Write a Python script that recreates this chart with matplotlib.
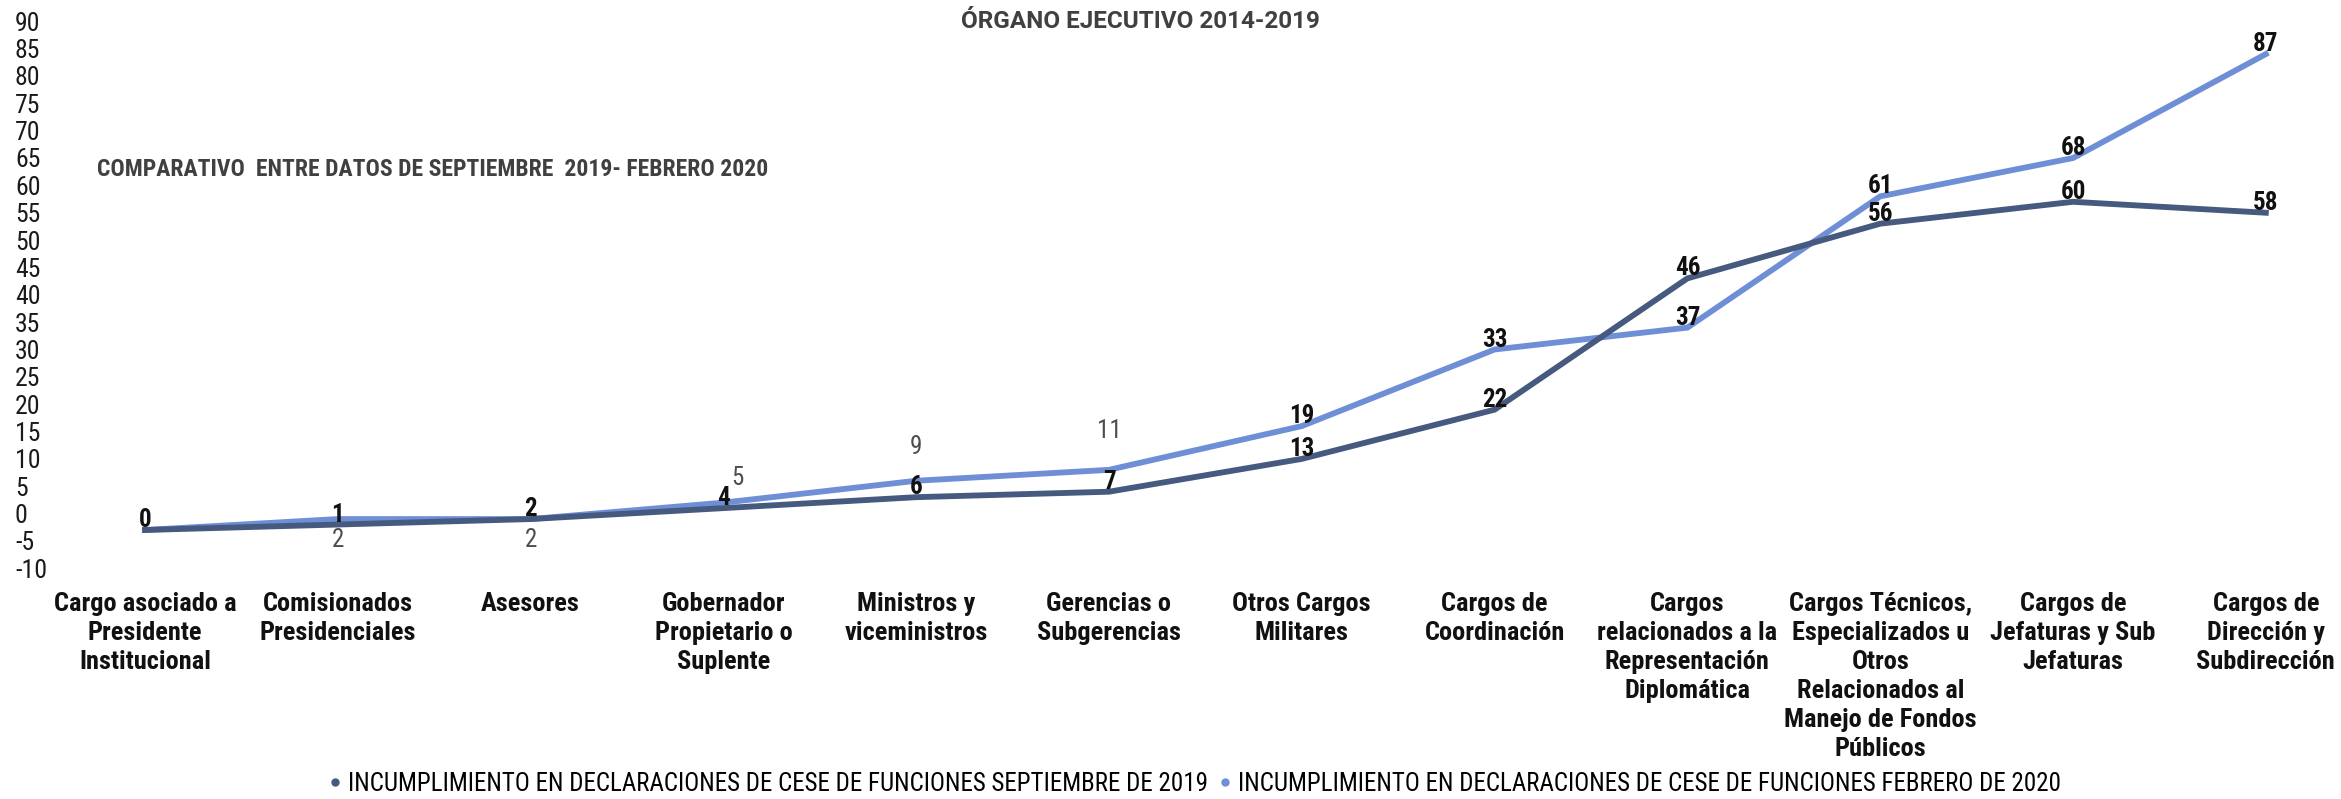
import matplotlib
matplotlib.use("Agg")
import matplotlib.pyplot as plt
import matplotlib.font_manager as fm
from matplotlib.lines import Line2D

categories = [
    "Cargo asociado a\nPresidente\nInstitucional",
    "Comisionados\nPresidenciales",
    "Asesores",
    "Gobernador\nPropietario o\nSuplente",
    "Ministros y\nviceministros",
    "Gerencias o\nSubgerencias",
    "Otros Cargos\nMilitares",
    "Cargos de\nCoordinación",
    "Cargos\nrelacionados a la\nRepresentación\nDiplomática",
    "Cargos Técnicos,\nEspecializados u\nOtros\nRelacionados al\nManejo de Fondos\nPúblicos",
    "Cargos de\nJefaturas y Sub\nJefaturas",
    "Cargos de\nDirección y\nSubdirección",
]
sep_2019 = [0, 1, 2, 4, 6, 7, 13, 22, 46, 56, 60, 58]
feb_2020 = [0, 2, 2, 5, 9, 11, 19, 33, 37, 61, 68, 87]
series_names = [
    "INCUMPLIMIENTO EN DECLARACIONES DE CESE DE FUNCIONES SEPTIEMBRE DE 2019",
    "INCUMPLIMIENTO EN DECLARACIONES DE CESE DE FUNCIONES FEBRERO DE 2020",
]
yticks = list(range(-10, 95, 5))
title = "ÓRGANO EJECUTIVO 2014-2019"
subtitle = "COMPARATIVO  ENTRE DATOS DE SEPTIEMBRE  2019- FEBRERO 2020"

avail = {f.name for f in fm.fontManager.ttflist}
COND = "Roboto Condensed" if "Roboto Condensed" in avail else "Liberation Sans Narrow"

DARK = "#46597F"
LIGHT = "#6E8FD6"

W, H = 2341, 799
fig = plt.figure(figsize=(W / 100, H / 100), dpi=100)

# axes placement in pixels
x0_px, x_step = 145.0, 192.8
y0_px, y_unit = 530.0, 5.47
xlim = (-0.5, 11.39)
ylim = (-10, 90)
left_px = x0_px + xlim[0] * x_step
right_px = x0_px + xlim[1] * x_step
top_px = y0_px - ylim[1] * y_unit
bot_px = y0_px - ylim[0] * y_unit
ax = fig.add_axes([left_px / W, 1 - bot_px / H, (right_px - left_px) / W, (bot_px - top_px) / H])
ax.set_xlim(*xlim)
ax.set_ylim(*ylim)
for s in ax.spines.values():
    s.set_visible(False)

x = list(range(len(categories)))
ax.plot(x, feb_2020, color=LIGHT, lw=4.2, solid_joinstyle="miter", zorder=2, clip_on=False)
ax.plot(x, sep_2019, color=DARK, lw=4.2, solid_joinstyle="miter", zorder=3, clip_on=False)

# y tick labels (left aligned, as in reference)
ax.set_yticks([])
for v in yticks:
    ax.annotate(str(v), xy=(0, v), xycoords=("axes fraction", "data"),
                xytext=(-(left_px - 15) * 0.72, 14 * 0.72), textcoords="offset points",
                ha="left", va="center", fontsize=18.5, family=COND, color="#1a1a1a")

ax.set_xticks(x)
ax.set_xticklabels(categories, family=COND, fontweight="bold", fontsize=19, linespacing=1.27, color="#111111")
ax.tick_params(axis="x", length=0, pad=5)

# data labels
LBL = 18
for i, v in enumerate(sep_2019):
    ax.annotate(str(v), xy=(i, v), xytext=(0, -1.5), textcoords="offset points",
                ha="center", va="bottom", fontsize=LBL, fontweight="bold", family=COND,
                color="#111111", zorder=5)
gray_offsets = {1: (0, -15), 2: (0, -15), 3: (10, 18), 4: (0, 24), 5: (0, 28)}
for i, v in enumerate(feb_2020):
    if i == 0:
        continue
    if i in gray_offsets:
        dx, dy = gray_offsets[i]
        ax.annotate(str(v), xy=(i, v), xytext=(dx, dy), textcoords="offset points",
                    ha="center", va="center", fontsize=LBL, family=COND,
                    color="#4d4d4d", zorder=5)
    else:
        ax.annotate(str(v), xy=(i, v), xytext=(0, -1.5), textcoords="offset points",
                    ha="center", va="bottom", fontsize=LBL, fontweight="bold", family=COND,
                    color="#111111", zorder=5)

fig.text(1140 / W, 1 - 22 / H, title, ha="center", va="center", fontsize=17.5,
         fontweight="bold", family="Roboto", color="#404040")
fig.text(97 / W, 1 - 170 / H, subtitle, ha="left", va="center", fontsize=17,
         fontweight="bold", family=COND, color="#404040")

handles = [Line2D([], [], marker="o", ls="none", color=DARK, markersize=5),
           Line2D([], [], marker="o", ls="none", color=LIGHT, markersize=5)]
fig.legend(handles, series_names, loc="center", bbox_to_anchor=(1193 / W, 1 - 784 / H),
           ncol=2, frameon=False, handletextpad=0.1, columnspacing=0.3, handlelength=0.8,
           prop={"family": COND, "size": 18})

fig.savefig("out.png", dpi=100)
